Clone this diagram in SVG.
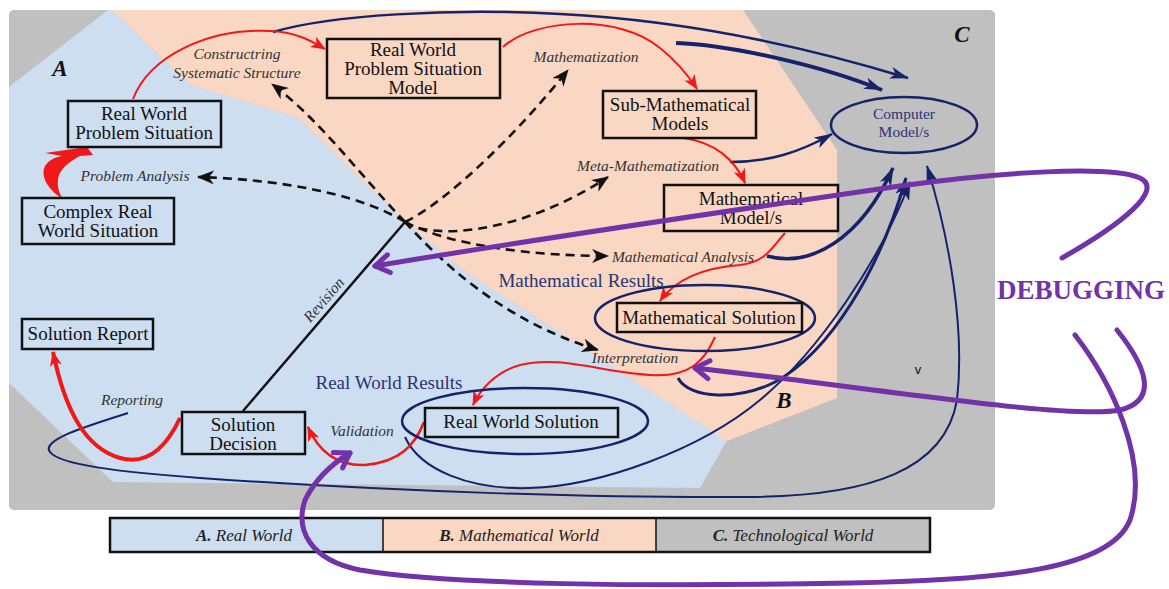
<svg xmlns="http://www.w3.org/2000/svg" width="1169" height="589" viewBox="0 0 1169 589">
<style>
.box{fill:none;stroke:#111;stroke-width:2.5}
.nt{font-family:"Liberation Serif",serif;font-size:19px;fill:#111;text-anchor:middle}
.lab{font-family:"Liberation Serif",serif;font-size:15.5px;font-style:italic;fill:#333;text-anchor:middle}
.res{font-family:"Liberation Serif",serif;font-size:19px;fill:#2b3474;text-anchor:middle}
.big{font-family:"Liberation Serif",serif;font-size:23px;font-style:italic;font-weight:bold;fill:#111;text-anchor:middle}
.red{fill:none;stroke:#f01818;stroke-width:2}
.dash{fill:none;stroke:#111;stroke-width:2.6;stroke-dasharray:9,6}
.navy{fill:none;stroke:#16236a;stroke-width:2.5}
.pur{fill:none;stroke:#7232a8;stroke-width:5;stroke-linecap:round}
.ell{fill:none;stroke:#16236a;stroke-width:2.5}
.leg{font-family:"Liberation Serif",serif;font-size:17px;font-style:italic;fill:#222;text-anchor:middle}
</style>
<defs>
<marker id="ar" markerUnits="userSpaceOnUse" markerWidth="16" markerHeight="12" refX="14" refY="6" orient="auto"><path d="M0,0 L15,6 L0,12 L4,6 Z" fill="#f01818"/></marker>
<marker id="ab" markerUnits="userSpaceOnUse" markerWidth="18" markerHeight="14" refX="16" refY="7" orient="auto"><path d="M0,0 L17,7 L0,14 L5,7 Z" fill="#111"/></marker>
<marker id="an" markerUnits="userSpaceOnUse" markerWidth="20" markerHeight="12" refX="18" refY="6" orient="auto"><path d="M0,0 L19,6 L0,12 L5,6 Z" fill="#16236a"/></marker>
<marker id="ap" markerUnits="userSpaceOnUse" markerWidth="20" markerHeight="24" refX="17" refY="12" orient="auto"><path d="M3,3 L17,12 L3,21" fill="none" stroke="#7232a8" stroke-width="5" stroke-linecap="round" stroke-linejoin="round"/></marker>
</defs>

<g id="background">
<rect x="9" y="10" width="986" height="500" rx="5" fill="#c0c0c0"/>
<polygon points="9,87 108,10 112,10 190,85 297,117 403,220 467,273 567,337 727,440 700,488 113,482 9,383" fill="#cddef0"/>
<polygon points="112,10 743,10 837,150 837,398 727,441 567,337 467,273 403,220 297,117 190,85" fill="#fad7c3"/>
<text class="big" x="60" y="76">A</text>
<text class="big" x="962" y="42">C</text>
<text class="big" x="784" y="408">B</text>
</g>

<g id="legend">
<rect x="110" y="518" width="273" height="34" fill="#cddef0"/>
<rect x="383" y="518" width="273" height="34" fill="#fad7c3"/>
<rect x="656" y="518" width="274" height="34" fill="#c0c0c0"/>
<rect x="110" y="518" width="820" height="34" fill="none" stroke="#111" stroke-width="2.5"/>
<line x1="383" y1="518" x2="383" y2="552" stroke="#111" stroke-width="1.5"/>
<line x1="656" y1="518" x2="656" y2="552" stroke="#111" stroke-width="1.5"/>
<text class="leg" x="244" y="541"><tspan font-weight="bold">A.</tspan> Real World</text>
<text class="leg" x="519" y="541"><tspan font-weight="bold">B.</tspan> Mathematical World</text>
<text class="leg" x="793" y="541"><tspan font-weight="bold">C.</tspan> Technological World</text>
</g>

<g id="connectors">
<!-- navy -->
<path class="navy" d="M273,32 C330,15 450,8 560,14 C680,20 800,45 908,78" marker-end="url(#an)"/>
<path class="navy" style="stroke-width:4" d="M676,43 C730,45 820,65 882,90" marker-end="url(#an)"/>
<path class="navy" d="M730,162 C770,162 800,152 832,134" marker-end="url(#an)"/>
<path class="navy" style="stroke-width:3.5" d="M767,256 C810,268 860,240 893,168" marker-end="url(#an)"/>
<path class="navy" style="stroke-width:3" d="M678,378 C690,400 740,400 775,382 C830,352 880,270 906,178" marker-end="url(#an)"/>
<path class="navy" style="stroke-width:2" d="M405,437 C420,470 470,490 530,488 C600,486 700,450 760,400 C820,350 880,260 910,182" marker-end="url(#an)"/>
<path class="navy" style="stroke-width:2" d="M128,413 C90,425 40,440 50,452 C60,465 120,472 200,478 C400,492 600,498 750,497 C870,496 945,470 957,400 C965,330 950,240 927,166" marker-end="url(#an)"/>
<!-- red -->
<path fill="#f01818" d="M63,199 C48,190 40,176 45,166 C49,160 55,157 62,156 L45,153 L87,147 L93,155 L80,156 C72,160 63,166 59,175 C56,185 59,193 63,199 Z"/>
<path class="red" d="M133,99 C150,55 210,28 270,31 C295,32 310,40 325,49" marker-end="url(#ar)"/>
<path class="red" d="M503,47 C535,18 620,14 660,48 C675,60 688,75 697,89" marker-end="url(#ar)"/>
<path class="red" d="M683,138 C715,142 735,160 745,183" marker-end="url(#ar)"/>
<path class="red" d="M785,233 C770,250 765,262 740,265 C700,268 675,280 660,301" marker-end="url(#ar)"/>
<path class="red" d="M715,337 C705,360 690,378 650,375 C600,372 560,355 520,365 C495,372 480,390 473,405" marker-end="url(#ar)"/>
<path class="red" style="stroke-width:2.5" d="M424,422 C415,445 400,462 365,465 C335,466 318,450 308,427" marker-end="url(#ar)"/>
<path class="red" style="stroke-width:4" d="M180,418 C165,450 145,465 120,458 C85,448 65,410 53,352" marker-end="url(#ar)"/>
<!-- dashed -->
<path class="dash" d="M405,222 C360,175 320,120 272,84" marker-end="url(#ab)"/>
<path class="dash" d="M405,222 C370,200 300,180 198,177" marker-end="url(#ab)"/>
<path class="dash" d="M405,222 C450,200 520,130 568,70" marker-end="url(#ab)"/>
<path class="dash" d="M405,222 C430,240 520,235 608,177" marker-end="url(#ab)"/>
<path class="dash" d="M405,222 C450,245 530,256 608,256" marker-end="url(#ab)"/>
<path class="dash" d="M405,222 C440,260 500,320 598,350" marker-end="url(#ab)"/>
<!-- revision -->
<line x1="243" y1="411" x2="405" y2="222" stroke="#111" stroke-width="2.5"/>
<text class="lab" transform="translate(330,305) rotate(-49.4)" x="0" y="-3">Revision</text>
</g>

<g id="labels">
<text class="lab" x="237" y="59">Constructring</text>
<text class="lab" x="237" y="78">Systematic Structure</text>
<text class="lab" x="135" y="181">Problem Analysis</text>
<text class="lab" x="586" y="62">Mathematization</text>
<text class="lab" x="648" y="171">Meta-Mathematization</text>
<text class="lab" x="683" y="262">Mathematical Analysis</text>
<text class="lab" x="635" y="363">Interpretation</text>
<text class="lab" x="132" y="405">Reporting</text>
<text class="lab" x="362" y="436">Validation</text>
<text class="res" x="581" y="287">Mathematical Results</text>
<text class="res" x="389" y="389">Real World Results</text>
<text x="918" y="374" font-family="Liberation Sans,sans-serif" font-size="13" fill="#111" text-anchor="middle">v</text>
</g>

<g id="n-rwps"><rect class="box" x="68" y="101" width="153" height="46"/><text class="nt" x="144" y="120">Real World</text><text class="nt" x="144" y="139">Problem Situation</text></g>
<g id="n-crws"><rect class="box" x="22" y="198" width="152" height="46"/><text class="nt" x="98" y="218">Complex Real</text><text class="nt" x="98" y="237">World Situation</text></g>
<g id="n-rwpsm"><rect class="box" x="327" y="39" width="173" height="59"/><text class="nt" x="413" y="56">Real World</text><text class="nt" x="413" y="75">Problem Situation</text><text class="nt" x="413" y="94">Model</text></g>
<g id="n-submath"><rect class="box" x="603" y="91" width="153" height="47"/><text class="nt" x="680" y="111">Sub-Mathematical</text><text class="nt" x="680" y="130">Models</text></g>
<g id="n-mathmodel"><rect class="box" x="664" y="185" width="174" height="46"/><text class="nt" x="751" y="205">Mathematical</text><text class="nt" x="751" y="224">Model/s</text></g>
<g id="n-computer"><ellipse class="ell" cx="904" cy="125" rx="73" ry="28"/><text x="904" y="119" font-family="Liberation Serif,serif" font-size="15.5" fill="#2b3474" text-anchor="middle">Computer</text><text x="904" y="137" font-family="Liberation Serif,serif" font-size="15.5" fill="#2b3474" text-anchor="middle">Model/s</text></g>
<g id="n-mathsol"><ellipse class="ell" cx="705" cy="318" rx="110" ry="33"/><rect class="box" x="617" y="303" width="185" height="29"/><text class="nt" x="709" y="324">Mathematical Solution</text></g>
<g id="n-rwsol"><ellipse class="ell" cx="525" cy="421" rx="123" ry="33"/><rect class="box" x="425" y="408" width="193" height="29"/><text class="nt" x="521" y="428">Real World Solution</text></g>
<g id="n-decision"><rect class="box" x="182" y="412" width="123" height="42"/><text class="nt" x="243" y="431">Solution</text><text class="nt" x="243" y="450">Decision</text></g>
<g id="n-report"><rect class="box" x="22" y="319" width="131" height="30"/><text class="nt" x="88" y="340">Solution Report</text></g>

<g id="debugging">
<text x="1081" y="299" font-family="Liberation Serif,serif" font-size="27" font-weight="bold" fill="#7232a8" text-anchor="middle">DEBUGGING</text>
<path class="pur" d="M1062,258 C1120,225 1165,190 1140,178 C1110,165 1000,172 900,186 C700,215 500,245 375,266" marker-end="url(#ap)"/>
<path class="pur" d="M1117,330 C1145,365 1160,400 1120,410 C1080,418 950,400 780,378 L695,368" marker-end="url(#ap)"/>
<path class="pur" d="M1075,335 C1110,380 1150,460 1130,520 C1110,570 1000,580 850,583 C650,587 450,585 360,570 C310,560 295,530 305,500 C315,480 330,465 350,453" marker-end="url(#ap)"/>
</g>
</svg>
